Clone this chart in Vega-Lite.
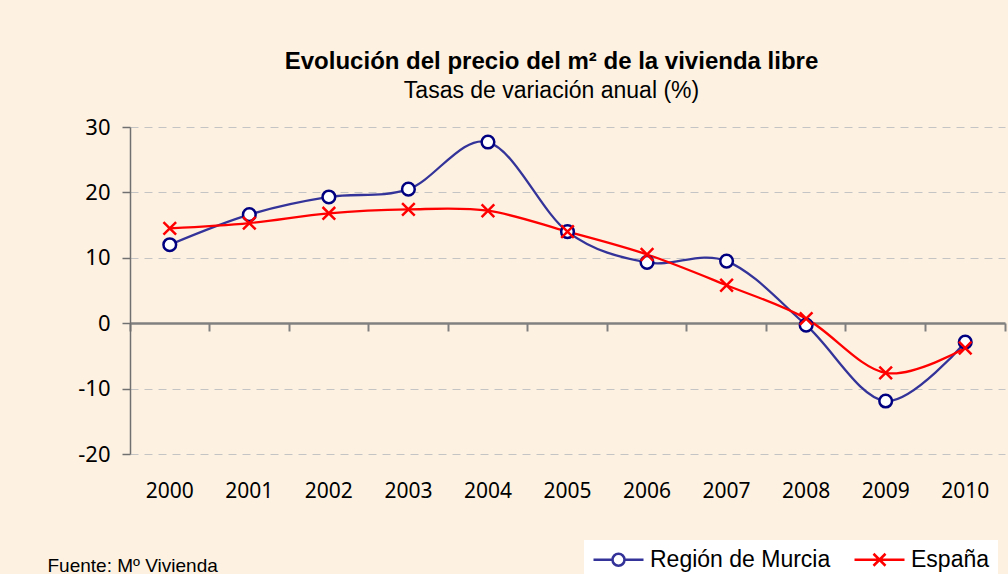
{
  "$schema": "https://vega.github.io/schema/vega-lite/v6.json",
  "width": 875,
  "height": 327,
  "autosize": {"type": "none"},
  "padding": {"left": 130, "top": 127, "right": 3, "bottom": 120},
  "background": "#FDF2E2",
  "config": {"view": {"stroke": null}},
  "title": {
    "text": "Evolución del precio del m² de la vivienda libre",
    "subtitle": "Tasas de variación anual (%)",
    "font": "Liberation Sans",
    "fontSize": 24,
    "fontWeight": "bold",
    "color": "#000000",
    "subtitleFont": "Liberation Sans",
    "subtitleFontSize": 23,
    "subtitleColor": "#000000",
    "subtitlePadding": 6,
    "anchor": "middle",
    "frame": "group",
    "dx": -16,
    "offset": 13
  },
  "data": {
    "values": [
      {"year": "2000", "serie": "Región de Murcia", "value": 12.0},
      {"year": "2001", "serie": "Región de Murcia", "value": 16.6},
      {"year": "2002", "serie": "Región de Murcia", "value": 19.3},
      {"year": "2003", "serie": "Región de Murcia", "value": 20.5},
      {"year": "2004", "serie": "Región de Murcia", "value": 27.7},
      {"year": "2005", "serie": "Región de Murcia", "value": 14.0},
      {"year": "2006", "serie": "Región de Murcia", "value": 9.3},
      {"year": "2007", "serie": "Región de Murcia", "value": 9.5},
      {"year": "2008", "serie": "Región de Murcia", "value": -0.3},
      {"year": "2009", "serie": "Región de Murcia", "value": -11.9},
      {"year": "2010", "serie": "Región de Murcia", "value": -2.9},
      {"year": "2000", "serie": "España", "value": 14.5},
      {"year": "2001", "serie": "España", "value": 15.3},
      {"year": "2002", "serie": "España", "value": 16.8},
      {"year": "2003", "serie": "España", "value": 17.4},
      {"year": "2004", "serie": "España", "value": 17.2},
      {"year": "2005", "serie": "España", "value": 14.0},
      {"year": "2006", "serie": "España", "value": 10.5},
      {"year": "2007", "serie": "España", "value": 5.8},
      {"year": "2008", "serie": "España", "value": 0.7},
      {"year": "2009", "serie": "España", "value": -7.6},
      {"year": "2010", "serie": "España", "value": -3.8}
    ]
  },
  "layer": [
    {
      "mark": {"type": "line", "interpolate": "cardinal", "strokeWidth": 2.3},
      "encoding": {
        "x": {
          "field": "year",
          "type": "ordinal",
          "scale": {"type": "band", "paddingInner": 0, "paddingOuter": 0},
          "axis": {
            "orient": "bottom",
            "domain": false,
            "ticks": false,
            "grid": false,
            "labelAngle": 0,
            "labelPadding": 26,
            "labelFont": "Noto Sans",
            "labelFontSize": 21,
            "labelColor": "#000000",
            "title": "Fuente: Mº Vivienda",
            "titleAnchor": "start",
            "titleAlign": "left",
            "titleBaseline": "alphabetic",
            "titleX": -83,
            "titleY": 117,
            "titleFont": "Liberation Sans",
            "titleFontSize": 19,
            "titleFontWeight": "normal",
            "titleColor": "#000000"
          }
        },
        "y": {
          "field": "value",
          "type": "quantitative",
          "scale": {"domain": [-20, 30], "nice": false, "zero": false},
          "axis": {
            "values": [-20, -10, 0, 10, 20, 30],
            "labelExpr": "'' + datum.value",
            "title": null,
            "grid": true,
            "gridDash": [8, 6],
            "gridColor": "#C4C4C4",
            "gridWidth": 1,
            "domainColor": "#707070",
            "domainWidth": 1.5,
            "tickColor": "#707070",
            "tickSize": 8,
            "tickWidth": 1.5,
            "labelPadding": 12,
            "labelFont": "Noto Sans",
            "labelFontSize": 22,
            "labelColor": "#000000"
          }
        },
        "color": {
          "field": "serie",
          "type": "nominal",
          "scale": {"domain": ["Región de Murcia", "España"], "range": ["#333399", "#FF0000"]}
        }
      }
    },
    {
      "mark": {"type": "point", "filled": true, "fill": "white", "strokeWidth": 2.5, "opacity": 1, "size": 160},
      "encoding": {
        "x": {
          "field": "year",
          "type": "ordinal",
          "axis": {
            "orient": "top",
            "offset": -196,
            "labels": false,
            "title": null,
            "grid": false,
            "domain": true,
            "domainColor": "#808080",
            "domainWidth": 2.5,
            "ticks": true,
            "tickColor": "#808080",
            "tickWidth": 2,
            "tickSize": -8,
            "bandPosition": 1,
            "tickExtra": true
          }
        },
        "y": {"field": "value", "type": "quantitative"},
        "stroke": {
          "field": "serie",
          "type": "nominal",
          "scale": {"domain": ["Región de Murcia", "España"], "range": ["#000080", "#FF0000"]},
          "legend": {
            "title": null,
            "orient": "none",
            "legendX": 454,
            "legendY": 413,
            "direction": "horizontal",
            "fillColor": "white",
            "padding": 8,
            "labelFont": "Liberation Sans",
            "labelFontSize": 23,
            "labelLimit": 400,
            "labelColor": "#000000",
            "symbolSize": 400,
            "symbolOffset": 15,
            "symbolStrokeWidth": 2.5,
            "labelOffset": 20,
            "columnPadding": 18,
            "symbolType": {"expr": "datum.value === 'España' ? 'M-2.5,0L2.5,0M-0.6,-0.6L0.6,0.6M-0.6,0.6L0.6,-0.6' : 'M-2.5,0L-0.6,0M0.6,0L2.5,0M0.6,0A0.6,0.6,0,1,1,-0.6,0A0.6,0.6,0,1,1,0.6,0Z'"},
            "encode": {
              "symbols": {
                "stroke": {"value": {"expr": "datum.value === 'España' ? '#FF0000' : '#000080'"}},
                "fill": {"value": "white"},
                "strokeWidth": {"value": 2.5},
                "opacity": {"value": 1}
              }
            }
          }
        },
        "shape": {
          "field": "serie",
          "type": "nominal",
          "scale": {"domain": ["España", "Región de Murcia"], "range": ["M-1,-1L1,1M-1,1L1,-1", "circle"]},
          "legend": null
        }
      }
    }
  ]
}
